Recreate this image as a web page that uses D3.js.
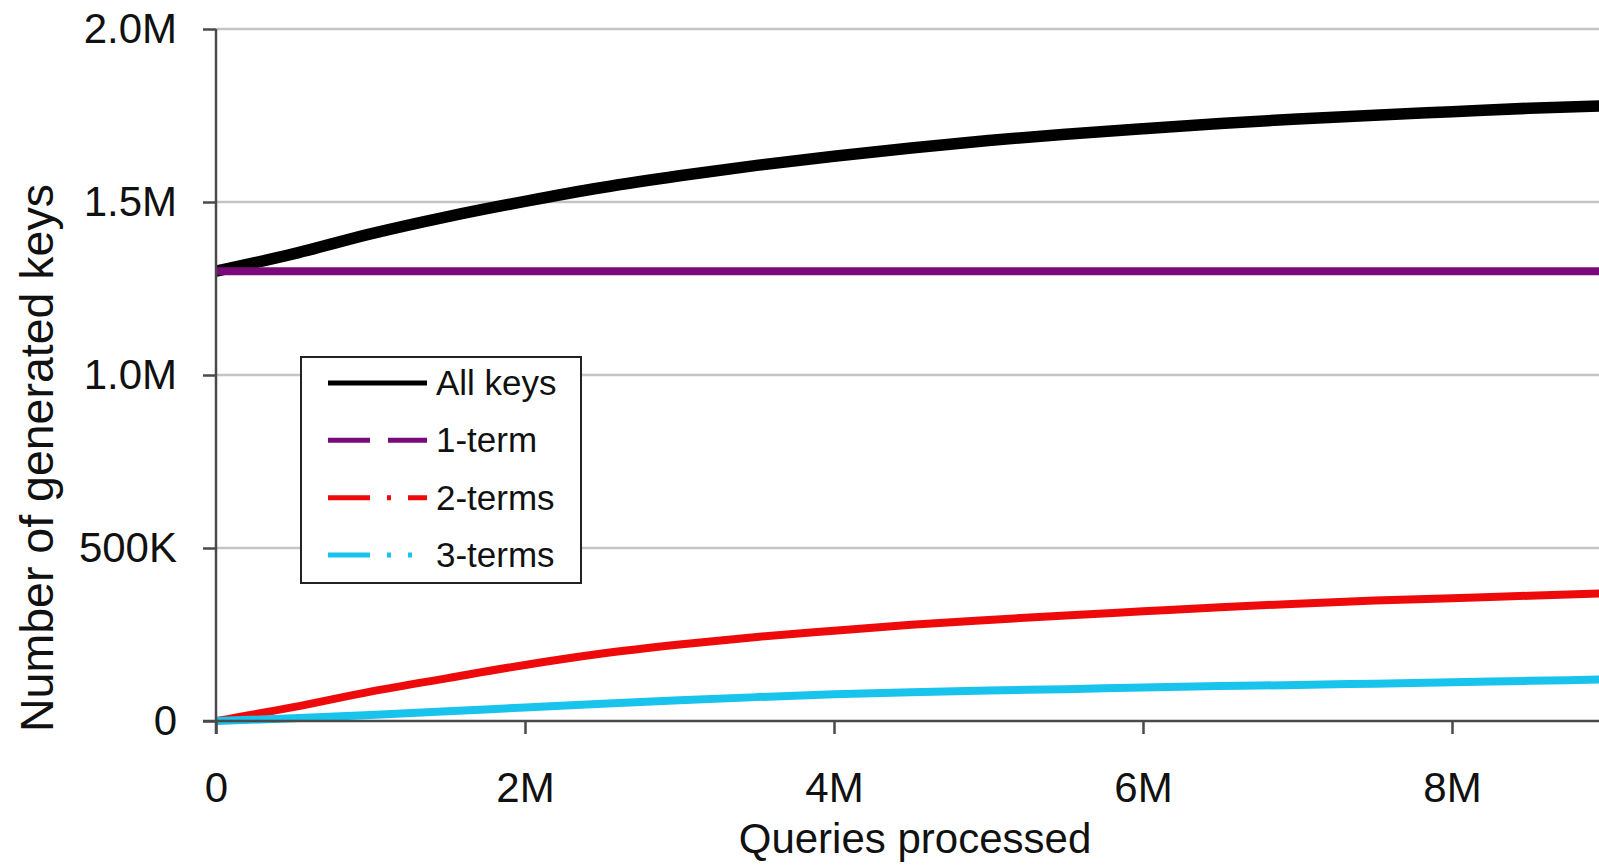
<!DOCTYPE html>
<html>
<head>
<meta charset="utf-8">
<script src="https://cdn.jsdelivr.net/npm/d3@7/dist/d3.min.js"></script>
<style>
  html, body { margin: 0; padding: 0; background: #fff; overflow: hidden; }
  text { font-family: "Liberation Sans", Arial, sans-serif; fill: #111; }
</style>
</head>
<body>
<svg id="chart" width="1599" height="865"></svg>
<script>
// ---- data (x in millions of queries, y in millions of keys) ----
const queries   = [0, 0.5, 1.0, 1.5, 2.0, 2.5, 3.0, 3.5, 4.0, 4.5, 5.0, 5.5, 6.0, 6.5, 7.0, 7.5, 8.0, 8.5, 9.0];
const allKeys   = [1.300, 1.350, 1.408, 1.458, 1.502, 1.542, 1.576, 1.606, 1.632, 1.656, 1.678, 1.696, 1.712, 1.727, 1.740, 1.751, 1.761, 1.771, 1.778];
const oneTerm   = [1.300, 1.300, 1.300, 1.300, 1.300, 1.300, 1.300, 1.300, 1.300, 1.300, 1.300, 1.300, 1.300, 1.300, 1.300, 1.300, 1.300, 1.300, 1.300];
const twoTerms  = [0.000, 0.040, 0.085, 0.124, 0.162, 0.195, 0.221, 0.243, 0.261, 0.278, 0.292, 0.305, 0.317, 0.329, 0.339, 0.348, 0.355, 0.362, 0.369];
const threeTerms= [0.000, 0.008, 0.017, 0.028, 0.039, 0.050, 0.060, 0.069, 0.077, 0.083, 0.088, 0.092, 0.097, 0.101, 0.104, 0.108, 0.112, 0.116, 0.120];

const seriesNames = ["All keys", "1-term", "2-terms", "3-terms"];
const xTickValues = [0, 2, 4, 6, 8];
const xTickLabels = ["0", "2M", "4M", "6M", "8M"];
const yTickValues = [0, 0.5, 1.0, 1.5, 2.0];
const yTickLabels = ["0", "500K", "1.0M", "1.5M", "2.0M"];
const xTitle = "Queries processed";
const yTitle = "Number of generated keys";

// ---- layout ----
const svg = d3.select("#chart");
const pLeft = 216, pTop = 29, pBottom = 721, pRight = 1761, W = 1599;

const x = d3.scaleLinear().domain([0, 10]).range([pLeft, pRight]);
const y = d3.scaleLinear().domain([0, 2]).range([pBottom, pTop]);

const series = [
  { name: seriesNames[0], values: allKeys,    color: "#000000", width: 11.5, dash: null },
  { name: seriesNames[1], values: oneTerm,    color: "#7a0a7a", width: 8,  dash: "42,18" },
  { name: seriesNames[2], values: twoTerms,   color: "#ee0a0a", width: 8,  dash: "42,17,4,17" },
  { name: seriesNames[3], values: threeTerms, color: "#18c3ec", width: 8,  dash: "42,17,4,17,4,17" }
];

// gridlines
svg.append("g")
  .selectAll("line")
  .data(yTickValues.filter(v => v > 0))
  .join("line")
  .attr("x1", pLeft).attr("x2", W)
  .attr("y1", d => y(d)).attr("y2", d => y(d))
  .attr("stroke", "#c4c4c4").attr("stroke-width", 2.5);

// clip
svg.append("defs").append("clipPath").attr("id", "clip")
  .append("rect").attr("x", pLeft).attr("y", 0).attr("width", W - pLeft).attr("height", pBottom + 10);

// lines
const line = d3.line().x((d, i) => x(queries[i])).y(d => y(d)).curve(d3.curveMonotoneX);
const lg = svg.append("g").attr("clip-path", "url(#clip)");
series.forEach(s => {
  lg.append("path")
    .datum(s.values)
    .attr("d", line)
    .attr("fill", "none")
    .attr("stroke", s.color)
    .attr("stroke-width", s.width)
    .attr("stroke-linejoin", "round")
    .attr("stroke-linecap", "butt");
});

// axes
const yAxis = d3.axisLeft(y).tickValues(yTickValues)
  .tickFormat((d, i) => yTickLabels[i]).tickSize(13).tickPadding(26).tickSizeOuter(0);
const gy = svg.append("g").attr("transform", `translate(${pLeft},0)`).call(yAxis);

const xAxis = d3.axisBottom(x).tickValues(xTickValues)
  .tickFormat((d, i) => xTickLabels[i]).tickSize(13).tickPadding(38).tickSizeOuter(0);
const gx = svg.append("g").attr("transform", `translate(0,${pBottom})`).call(xAxis);

[gx, gy].forEach(g => {
  g.select(".domain").attr("stroke", "#4a4a4a").attr("stroke-width", 2.5);
  g.selectAll(".tick line").attr("stroke", "#4a4a4a").attr("stroke-width", 2.5);
  g.selectAll(".tick text").style("font-size", "42px").attr("fill", "#111")
    .style("font-family", '"Liberation Sans", Arial, sans-serif');
});
gy.select(".domain").attr("d", `M0,${pTop}V${pBottom + 13}`);
gx.select(".domain").attr("d", `M${pLeft - 13},0H${W}`);

// axis titles
svg.append("text")
  .attr("x", 915).attr("y", 853)
  .attr("text-anchor", "middle")
  .style("font-size", "42px")
  .text(xTitle);

svg.append("text")
  .attr("transform", "translate(53,458) rotate(-90)")
  .attr("text-anchor", "middle")
  .style("font-size", "46.5px")
  .text(yTitle);

// legend
const legend = svg.append("g");
legend.append("rect")
  .attr("x", 301).attr("y", 357).attr("width", 280).attr("height", 226)
  .attr("fill", "#fff").attr("stroke", "#222").attr("stroke-width", 2);
const legY = d3.scalePoint().domain(seriesNames).range([383, 555]);
series.forEach(s => {
  const yy = legY(s.name);
  legend.append("line")
    .attr("x1", 328).attr("x2", 427).attr("y1", yy).attr("y2", yy)
    .attr("stroke", s.color).attr("stroke-width", 5)
    .attr("stroke-dasharray", s.dash);
  legend.append("text")
    .attr("x", 436).attr("y", yy + 12)
    .style("font-size", "35px")
    .text(s.name);
});
</script>
</body>
</html>
